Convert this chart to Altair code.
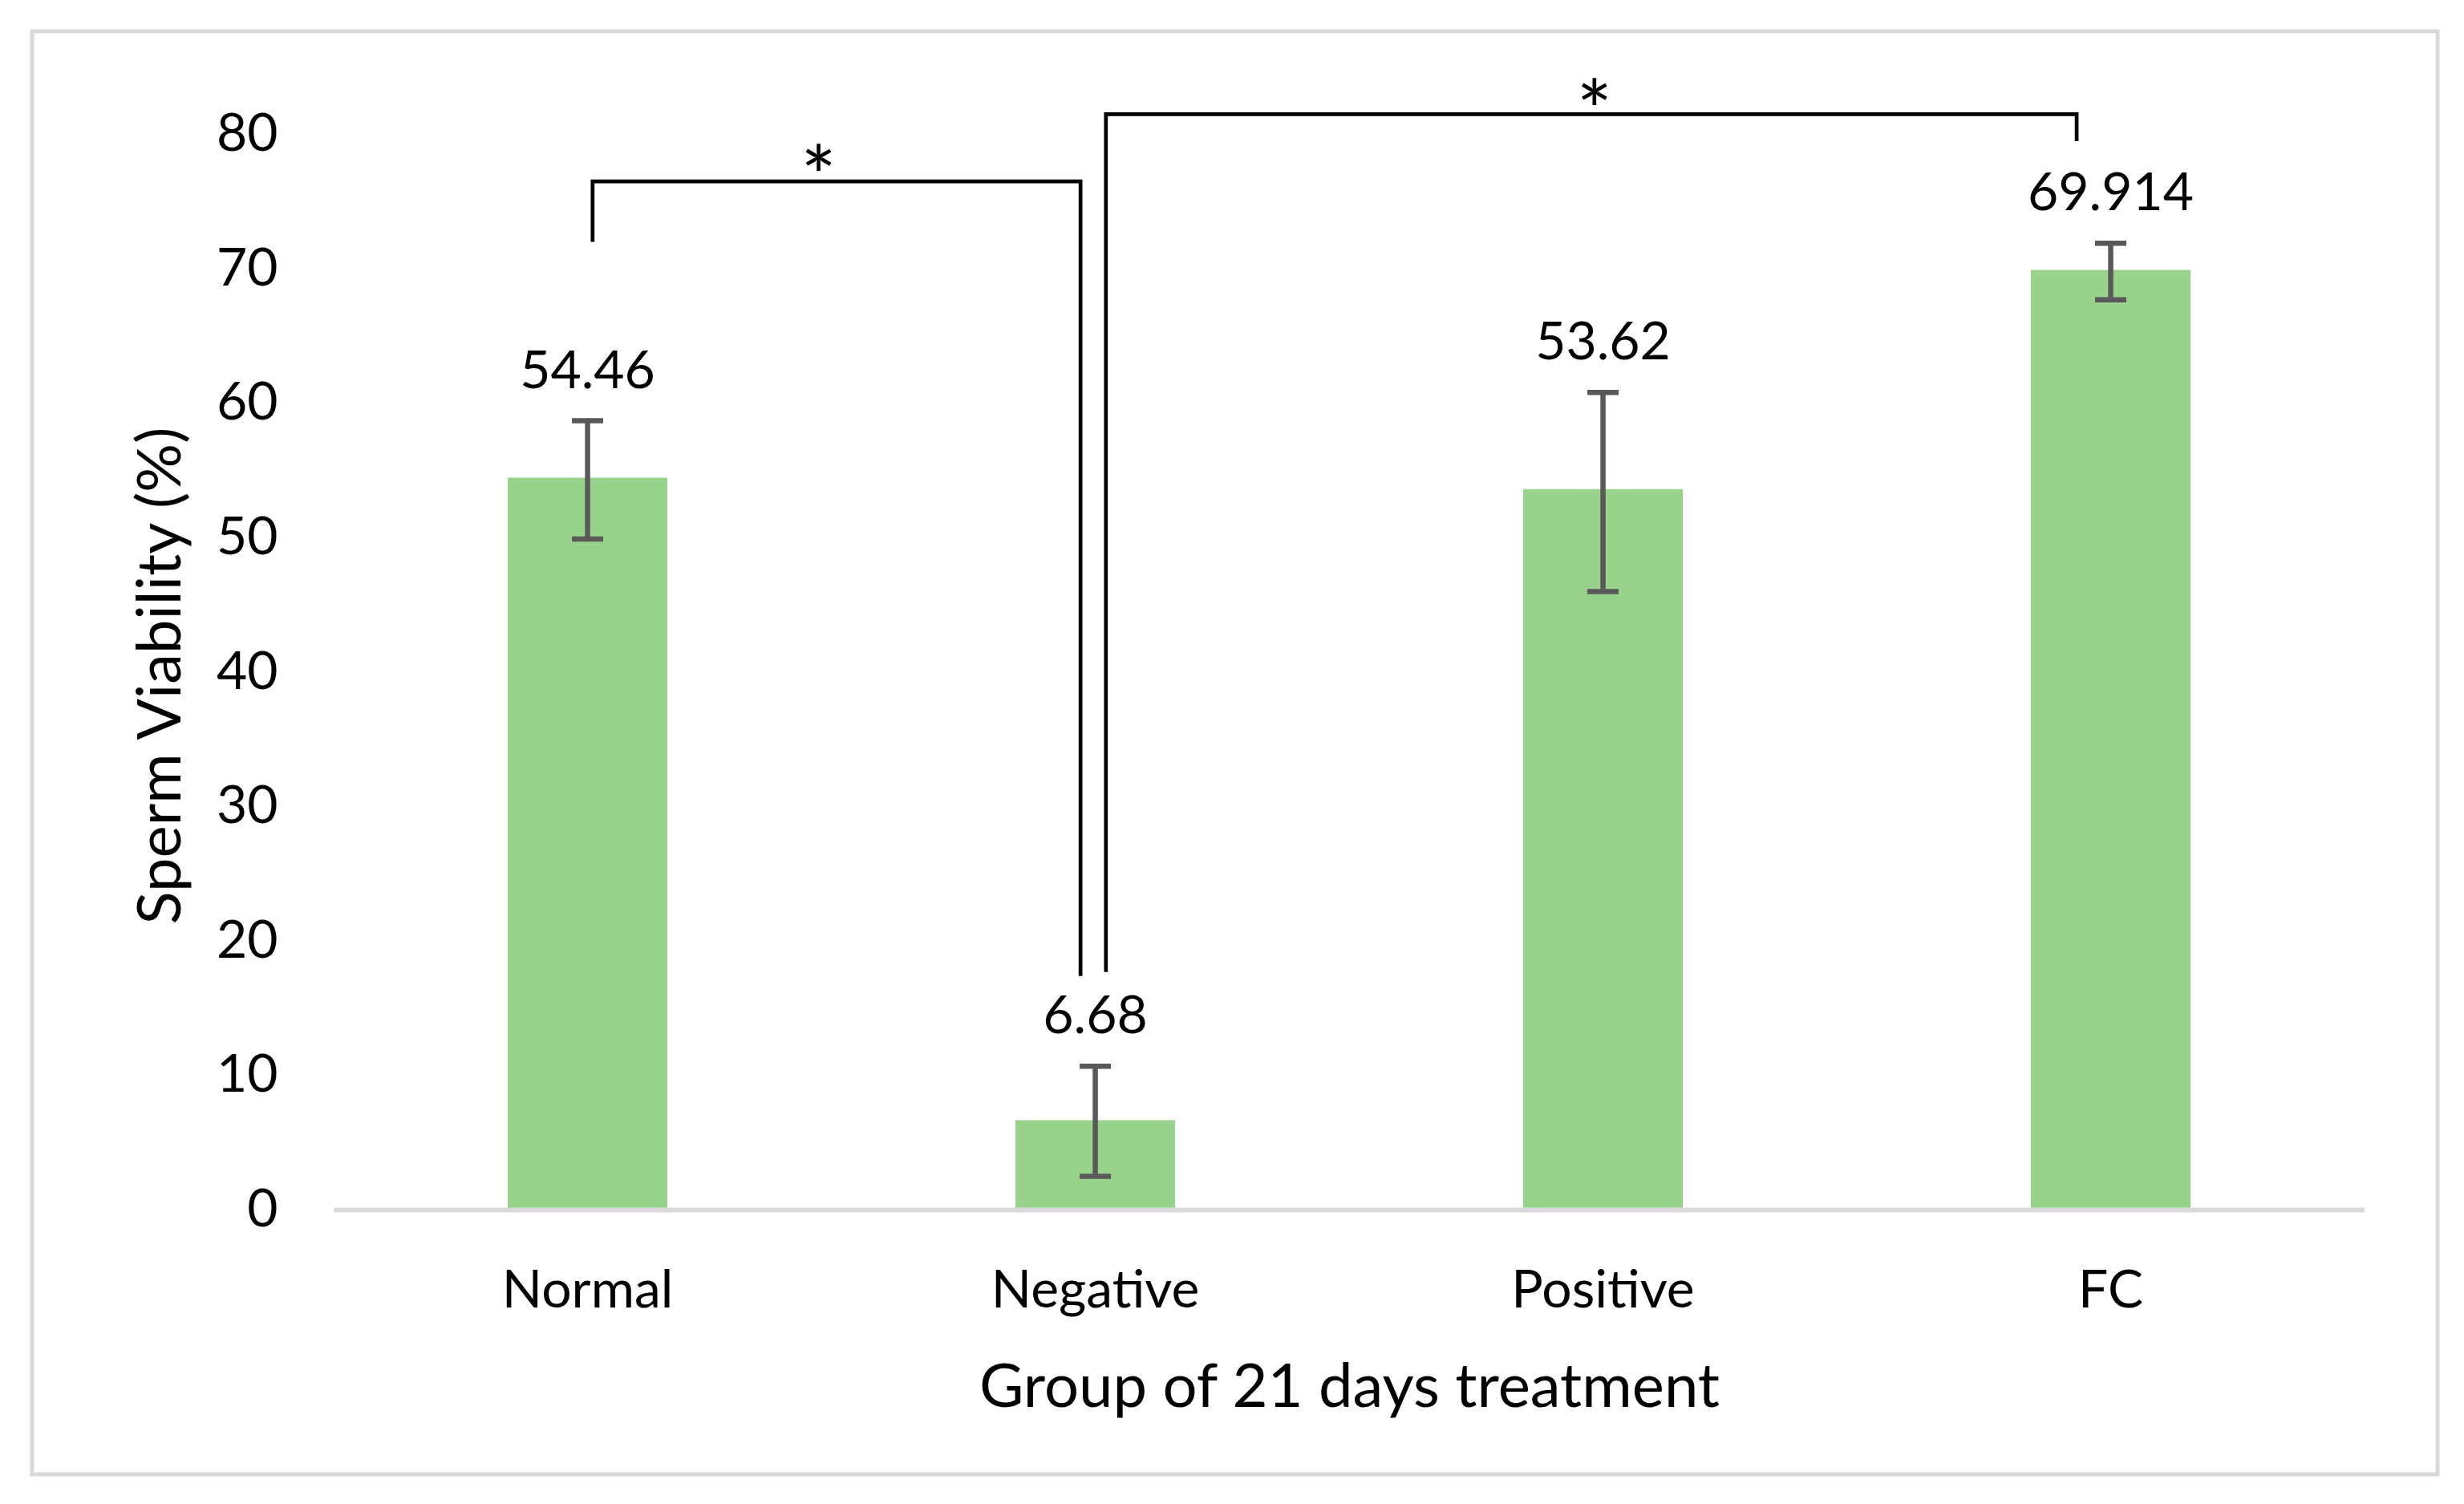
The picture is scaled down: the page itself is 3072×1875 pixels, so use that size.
import altair as alt
import pandas as pd

# ---- data ----
groups = ["Normal", "Negative", "Positive", "FC"]
viability = [54.46, 6.68, 53.62, 69.914]
err_low = [49.9, 2.5, 46.0, 67.7]
err_high = [58.7, 10.7, 60.8, 71.9]
value_labels = ["54.46", "6.68", "53.62", "69.914"]

# significance brackets (x in group units: 0 = left edge of first group, 1 unit per group)
bracket_id = ["a", "a", "a", "a", "b", "b", "b", "b"]
bracket_order = [0, 1, 2, 3, 0, 1, 2, 3]
bracket_x = [0.510, 0.510, 1.471, 1.471, 1.521, 1.521, 3.433, 3.433]
bracket_y = [72.0, 76.5, 76.5, 17.4, 17.7, 81.5, 81.5, 79.5]
star_x = [0.955, 2.483]
star_y = [78.3, 83.2]
star_text = ["*", "*"]
axis_line_x = [0, 4]
axis_line_y = [0]

main = pd.DataFrame({"group": groups, "viability": viability,
                     "err_low": err_low, "err_high": err_high, "label": value_labels})
brackets = pd.DataFrame({"bid": bracket_id, "ord": bracket_order, "bx": bracket_x, "by": bracket_y})
stars = pd.DataFrame({"sx": star_x, "sy": star_y, "txt": star_text})
axis_line = pd.DataFrame({"x0": [axis_line_x[0]], "x1": [axis_line_x[1]], "y0": axis_line_y})

W, H = 2999, 1799
PLOT_LEFT, STEP = 376, 633

yscale = alt.Scale(domain=[-19.657, 87.666], nice=False)
yaxis = alt.Axis(title="Sperm Viability (%)", values=list(range(0, 81, 10)), offset=-306,
                 domain=False, ticks=False, tickSize=0, grid=False, labelPadding=0,
                 labelFontSize=66, labelColor="black", labelBaseline="middle", labelAlign="right",
                 labelOverlap=False, titleFontSize=76, titleFontWeight="normal", titleColor="black",
                 titleX=-122, titleY=803, titleBaseline="alphabetic", titleAlign="center")
xband = alt.Scale(type="band", domain=groups, paddingInner=0.6856, paddingOuter=0.7117, align=0.6582)
xaxis = alt.Axis(title="Group of 21 days treatment", offset=-329.5, domain=False, ticks=False,
                 tickSize=0, grid=False, labelPadding=121, labelBaseline="alphabetic", labelAngle=0,
                 labelFontSize=66, labelColor="black", labelLimit=2000, titleFontSize=76,
                 titleFontWeight="normal", titleColor="black", titleX=1642, titleY=245,
                 titleBaseline="alphabetic", titleAlign="center")
xq = alt.Scale(domain=[-PLOT_LEFT / STEP, (W - PLOT_LEFT) / STEP], nice=False, zero=False)

bars = alt.Chart(main).mark_bar(color="#98D28B").encode(
    x=alt.X("group:N", scale=xband, axis=xaxis, sort=groups),
    y=alt.Y("viability:Q", scale=yscale, axis=yaxis),
)

base_line = alt.Chart(axis_line).mark_rule(color="#d9d9d9", strokeWidth=6).encode(
    x=alt.X("x0:Q", scale=xq, axis=None),
    x2="x1:Q",
    y=alt.Y("y0:Q", scale=yscale, axis=yaxis),
)

err_rule = alt.Chart(main).mark_rule(color="#595959", strokeWidth=6.5).encode(
    x=alt.X("group:N", scale=xband, axis=None, sort=groups),
    y=alt.Y("err_low:Q", scale=yscale, axis=yaxis),
    y2="err_high:Q",
)
cap_lo = alt.Chart(main).mark_tick(color="#595959", size=39, thickness=6.5, opacity=1).encode(
    x=alt.X("group:N", scale=xband, axis=None, sort=groups),
    y=alt.Y("err_low:Q", scale=yscale, axis=yaxis),
)
cap_hi = alt.Chart(main).mark_tick(color="#595959", size=39, thickness=6.5, opacity=1).encode(
    x=alt.X("group:N", scale=xband, axis=None, sort=groups),
    y=alt.Y("err_high:Q", scale=yscale, axis=yaxis),
)
labels = alt.Chart(main).mark_text(fontSize=66, color="black", baseline="alphabetic",
                                   align="center", dy=-41).encode(
    x=alt.X("group:N", scale=xband, axis=None, sort=groups),
    y=alt.Y("err_high:Q", scale=yscale, axis=yaxis),
    text="label:N",
)

bracket_lines = alt.Chart(brackets).mark_line(color="black", strokeWidth=4.7,
                                              strokeJoin="miter", strokeCap="butt").encode(
    x=alt.X("bx:Q", scale=xq, axis=None),
    y=alt.Y("by:Q", scale=yscale, axis=yaxis),
    detail="bid:N",
    order="ord:Q",
)
star_marks = alt.Chart(stars).mark_text(fontSize=105, color="black", baseline="alphabetic",
                                        align="center", dy=62).encode(
    x=alt.X("sx:Q", scale=xq, axis=None),
    y=alt.Y("sy:Q", scale=yscale, axis=yaxis),
    text="txt:N",
)

chart = alt.layer(
    bars, base_line, err_rule, cap_lo, cap_hi, labels, bracket_lines, star_marks
).resolve_scale(x="independent").properties(
    width=W, height=H,
    padding={"left": 32, "top": 31, "right": 10, "bottom": 10},
    background="white",
).configure(font="Lato").configure_view(stroke="#d9d9d9", strokeWidth=5)

chart.save("out.html", embed_options={"renderer": "svg", "actions": False})
